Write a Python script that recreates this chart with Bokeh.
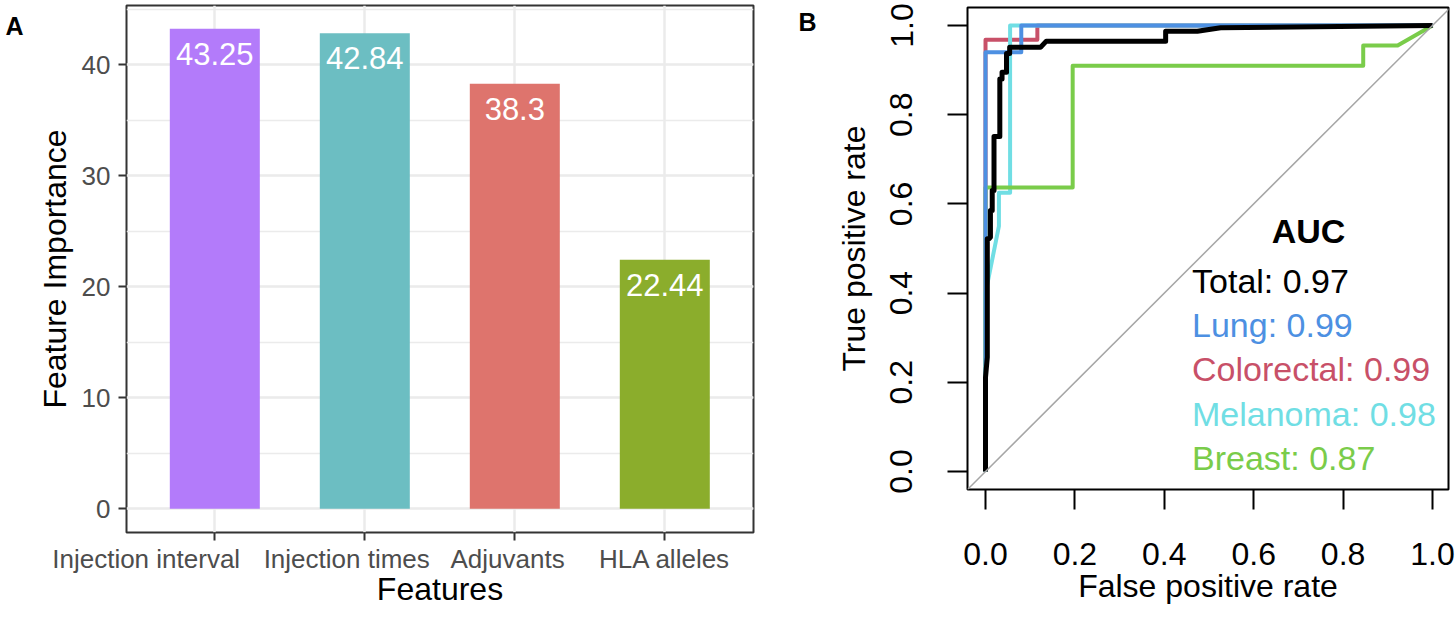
from bokeh.plotting import figure
from bokeh.layouts import row
from bokeh.models import (Range1d, FixedTicker, SingleIntervalTicker, LinearAxis, Slope,
                          ColumnDataSource)
from bokeh.core.properties import value
from bokeh.embed import file_html
from bokeh.resources import INLINE

FONT = "Liberation Sans"

# ---------------- Panel A data ----------------
features = ["Injection interval", "Injection times", "Adjuvants", "HLA alleles"]
importance = [43.25, 42.84, 38.3, 22.44]
importance_text = ["43.25", "42.84", "38.3", "22.44"]
bar_colors = ["#B37BFA", "#6CBEC2", "#DE746D", "#8BAD2C"]

# ---------------- Panel B data ----------------
roc_ticks = [0.0, 0.2, 0.4, 0.6, 0.8, 1.0]
roc_tick_labels = ["0.0", "0.2", "0.4", "0.6", "0.8", "1.0"]

colorectal_fpr = [0, 0, 0.116, 0.116, 1]
colorectal_tpr = [0, 0.968, 0.968, 1, 1]

melanoma_fpr = [0, 0, 0.03, 0.03, 0.055, 0.055, 1]
melanoma_tpr = [0, 0.40, 0.55, 0.625, 0.625, 1, 1]

breast_fpr = [0, 0, 0.195, 0.195, 0.845, 0.845, 0.922, 1]
breast_tpr = [0, 0.637, 0.637, 0.91, 0.91, 0.955, 0.955, 1]

lung_fpr = [0, 0, 0.08, 0.08, 1]
lung_tpr = [0, 0.94, 0.94, 1, 1]

total_fpr = [0, 0, 0.004, 0.004, 0.008, 0.011, 0.011, 0.015, 0.015, 0.019, 0.019,
             0.032, 0.032, 0.037, 0.037, 0.047, 0.047, 0.054, 0.054, 0.123, 0.136,
             0.403, 0.403, 0.474, 0.526, 1]
total_tpr = [0, 0.211, 0.256, 0.522, 0.522, 0.525, 0.585, 0.585, 0.63, 0.63, 0.751,
             0.751, 0.880, 0.880, 0.895, 0.895, 0.937, 0.937, 0.951, 0.951, 0.965,
             0.965, 0.987, 0.987, 0.995, 1]

auc_names = ["Total", "Lung", "Colorectal", "Melanoma", "Breast"]
auc_values = ["0.97", "0.99", "0.99", "0.98", "0.87"]
roc_colors = ["#000000", "#4D90E2", "#C85068", "#70DEE4", "#7ACC4A"]

NBSP = "\u00a0"

# ================= Panel A =================
A_PX_PER_UNIT = 11.1
A_YMIN, A_YMAX = -2.135, 45.34
xs = list(range(1, len(features) + 1))
srcA = ColumnDataSource(dict(x=xs, top=importance, color=bar_colors, label=importance_text,
                             label_y=[v - 25 / A_PX_PER_UNIT for v in importance]))

pA = figure(width=793, height=617, x_range=Range1d(0.4113, 4.5913), y_range=Range1d(A_YMIN, A_YMAX),
            output_backend="svg", toolbar_location=None,
            min_border_left=126, min_border_right=40, min_border_top=5, min_border_bottom=85)
pA.frame_align = False
pA.background_fill_color = "white"
pA.border_fill_color = "white"
pA.outline_line_color = "#333333"
pA.outline_line_width = 2

pA.vbar(x="x", top="top", bottom=0, width=0.6, fill_color="color", line_color=None, source=srcA)
pA.text(x="x", y="label_y", text="label", source=srcA, text_align="center", text_baseline="middle",
        text_color="white", text_font=value(FONT), text_font_size="31px")

# category labels, shifted left as in the original figure (padding with no-break spaces)
label_shift_px = [-68, -19, -9, 0]
space_px = 0.278 * 26
pA.xaxis.ticker = FixedTicker(ticks=xs)
pA.xaxis.major_label_overrides = {
    xv: name + NBSP * int(round(-2 * dx / space_px)) for xv, name, dx in zip(xs, features, label_shift_px)
}
pA.yaxis.ticker = SingleIntervalTicker(interval=10, num_minor_ticks=2)

for ax in (pA.xaxis[0], pA.yaxis[0]):
    ax.axis_line_color = None
    ax.major_tick_out = 8
    ax.major_tick_in = 0
    ax.major_tick_line_color = "#333333"
    ax.major_tick_line_width = 2
    ax.minor_tick_line_color = None
    ax.major_label_text_font = FONT
    ax.major_label_text_font_size = "26px"
    ax.major_label_text_color = "#4D4D4D"
    ax.axis_label_text_font = FONT
    ax.axis_label_text_font_size = "32px"
    ax.axis_label_text_font_style = "normal"
    ax.axis_label_text_color = "black"

pA.xaxis.axis_label = "Features"
pA.yaxis.axis_label = "Feature Importance"
pA.xaxis.major_label_standoff = 3
pA.xaxis.axis_label_standoff = -6
pA.yaxis.major_label_standoff = 8
pA.yaxis.axis_label_standoff = 6

pA.xgrid.grid_line_color = "#EBEBEB"
pA.xgrid.grid_line_width = 2.5
pA.ygrid.grid_line_color = "#EBEBEB"
pA.ygrid.grid_line_width = 2.5
pA.ygrid.minor_grid_line_color = "#EBEBEB"
pA.ygrid.minor_grid_line_width = 1.3

# panel tag "A" as an extra, line-less axis
tagA = LinearAxis(ticker=FixedTicker(ticks=[43.5]), major_label_overrides={43.5: "A"},
                  axis_line_color=None, major_tick_line_color=None, minor_tick_line_color=None,
                  major_tick_out=0, major_tick_in=0, major_label_standoff=10,
                  major_label_text_font=FONT, major_label_text_font_style="bold",
                  major_label_text_font_size="25px", major_label_text_color="black")
pA.add_layout(tagA, "left")

# ================= Panel B =================
pB = figure(width=663, height=617, x_range=Range1d(-0.0403, 1.0358), y_range=Range1d(-0.0404, 1.0404),
            output_backend="svg", toolbar_location=None,
            min_border_left=174, min_border_right=8, min_border_top=7, min_border_bottom=128)
pB.frame_align = False
pB.background_fill_color = "white"
pB.border_fill_color = "white"
pB.outline_line_color = "black"
pB.outline_line_width = 2
pB.grid.grid_line_color = None

pB.add_layout(Slope(gradient=1, y_intercept=0, line_color="#A6A6A6", line_width=1.5))

pB.line(colorectal_fpr, colorectal_tpr, line_color=roc_colors[2], line_width=4, line_join="round")
pB.line(melanoma_fpr, melanoma_tpr, line_color=roc_colors[3], line_width=4, line_join="round")
pB.line(breast_fpr, breast_tpr, line_color=roc_colors[4], line_width=4, line_join="round")
pB.line(lung_fpr, lung_tpr, line_color=roc_colors[1], line_width=4, line_join="round")
pB.line(total_fpr, total_tpr, line_color=roc_colors[0], line_width=5, line_join="round")

legend_text = [f"{n}: {v}" for n, v in zip(auc_names, auc_values)]
legend_y = [0.428 - i * 0.0995 for i in range(len(auc_names))]
pB.text(x=[0.462] * len(auc_names), y=legend_y, text=legend_text, text_color=roc_colors,
        text_font=value(FONT), text_font_size="34px", text_align="left", text_baseline="middle")
pB.text(x=[0.7226], y=[0.540], text=["AUC"], text_color="black", text_font=value(FONT),
        text_font_size="34px", text_font_style="bold", text_align="center", text_baseline="middle")

for ax in (pB.xaxis[0], pB.yaxis[0]):
    ax.ticker = FixedTicker(ticks=roc_ticks)
    ax.major_label_overrides = {t: l for t, l in zip(roc_ticks, roc_tick_labels)}
    ax.axis_line_color = None
    ax.major_tick_out = 20
    ax.major_tick_in = 0
    ax.major_tick_line_color = "black"
    ax.major_tick_line_width = 2
    ax.minor_tick_line_color = None
    ax.major_label_text_font = FONT
    ax.major_label_text_font_size = "32px"
    ax.major_label_text_color = "black"
    ax.axis_label_text_font = FONT
    ax.axis_label_text_font_size = "32px"
    ax.axis_label_text_font_style = "normal"
    ax.axis_label_text_color = "black"

pB.xaxis.axis_label = "False positive rate"
pB.yaxis.axis_label = "True positive rate"
pB.yaxis.major_label_orientation = "vertical"
pB.xaxis.major_label_standoff = 33
pB.xaxis.axis_label_standoff = 0
pB.yaxis.major_label_standoff = 35
pB.yaxis.axis_label_standoff = 16

tagB = LinearAxis(ticker=FixedTicker(ticks=[1.007]), major_label_overrides={1.007: "B"},
                  axis_line_color=None, major_tick_line_color=None, minor_tick_line_color=None,
                  major_tick_out=0, major_tick_in=0, major_label_standoff=16,
                  major_label_text_font=FONT, major_label_text_font_style="bold",
                  major_label_text_font_size="25px", major_label_text_color="black")
pB.add_layout(tagB, "left")

layout = row(pA, pB)
open("out.html", "w").write(file_html(layout, INLINE))
